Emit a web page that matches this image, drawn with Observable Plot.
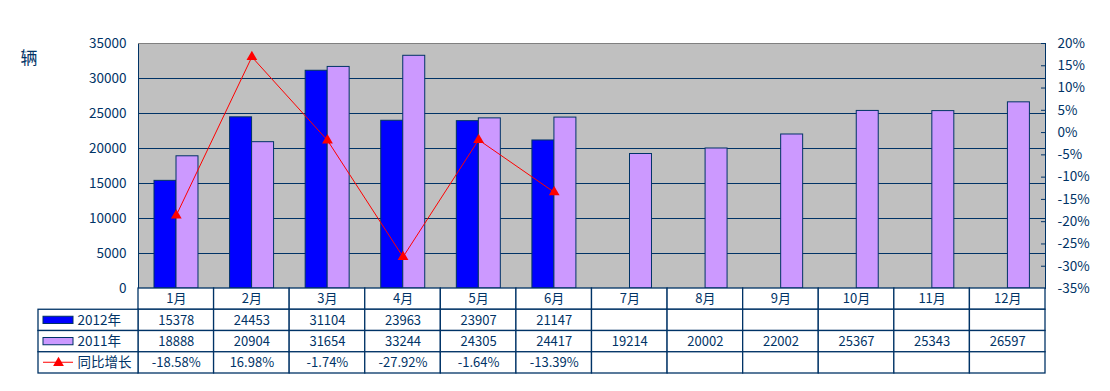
<!DOCTYPE html>
<html><head><meta charset="utf-8">
<script src="https://cdn.jsdelivr.net/npm/d3@7"></script>
<script src="https://cdn.jsdelivr.net/npm/@observablehq/plot@0.6"></script>
<style>
body{margin:0;background:#fff;}
#wrap{position:relative;width:1110px;height:391px;}
#wrap svg{position:absolute;left:0;overflow:visible;}
</style>
</head><body><div id="wrap"></div>
<script>
const months = ["1月","2月","3月","4月","5月","6月","7月","8月","9月","10月","11月","12月"];
const sales2012 = [15378, 24453, 31104, 23963, 23907, 21147];
const sales2011 = [18888, 20904, 31654, 33244, 24305, 24417, 19214, 20002, 22002, 25367, 25343, 26597];
const growth = [-18.58, 16.98, -1.74, -27.92, -1.64, -13.39];
const leftTicks = [0, 5000, 10000, 15000, 20000, 25000, 30000, 35000];
const rightTicks = [-35, -30, -25, -20, -15, -10, -5, 0, 5, 10, 15, 20];
const rowKeys = ["header", "2012年", "2011年", "同比增长"];
const unitLabel = "辆";

const NAVY = "#003366";
const FONT = "SimSun, 'Noto Sans CJK SC', sans-serif";
const pct = d3.scaleLinear([-35, 20], [0, 35000]);

const rows2012 = sales2012.map((v, i) => ({month: months[i], value: v}));
const rows2011 = sales2011.map((v, i) => ({month: months[i], value: v}));
const rowsG = growth.map((g, i) => ({month: months[i], g}));

const main = Plot.plot({
  width: 1110, height: 300,
  marginTop: 43, marginBottom: 12, marginLeft: 138, marginRight: 65,
  style: {background: "transparent", fontFamily: FONT, fontSize: "13px", color: NAVY},
  x: {domain: months, padding: 0, round: false, axis: null},
  y: {domain: [0, 35000], axis: null},
  marks: [
    Plot.frame({fill: "#C0C0C0", stroke: NAVY}),
    Plot.ruleY(leftTicks.slice(1, -1), {stroke: NAVY}),
    Plot.ruleY([35000], {stroke: "#808080"}),
    Plot.barY(rows2012, {x: "month", y: "value", fill: "#0000FF", stroke: NAVY, insetLeft: 16, insetRight: 37.6}),
    Plot.barY(rows2011, {x: "month", y: "value", fill: "#CC99FF", stroke: NAVY, insetLeft: 38, insetRight: 15.6}),
    Plot.line(rowsG, {x: "month", y: d => pct(d.g), stroke: "#FF0000", strokeWidth: 1}),
    Plot.dot(rowsG, {x: "month", y: d => pct(d.g), symbol: "triangle", r: 4, fill: "#FF0000"}),
    Plot.axisY({anchor: "left", ticks: leftTicks, tickFormat: d => String(d), label: null, tickSize: 0, tickPadding: 12, fill: NAVY, fontSize: 13.5}),
    Plot.axisY({anchor: "right", ticks: rightTicks.map(v => pct(v)), tickFormat: v => Math.round(pct.invert(v)) + "%", label: null,
      tickSize: 5, dx: -5, tickPadding: 12, stroke: NAVY, fill: NAVY, fontSize: 13.5}),
    Plot.text([unitLabel], {frameAnchor: "top-left", dx: -118, dy: 8, textAnchor: "start", fontSize: 17, fill: NAVY})
  ]
});
main.style.top = "0px";

const cells = [];
months.forEach((m, i) => rowKeys.forEach(r => cells.push({i, r})));
const txt = [];
months.forEach((m, i) => txt.push({i, r: "header", t: m}));
sales2012.forEach((v, i) => txt.push({i, r: "2012年", t: String(v)}));
sales2011.forEach((v, i) => txt.push({i, r: "2011年", t: String(v)}));
growth.forEach((v, i) => txt.push({i, r: "同比增长", t: v.toFixed(2) + "%"}));

const table = Plot.plot({
  width: 1110, height: 103,
  marginTop: 0, marginBottom: 18, marginLeft: 138, marginRight: 65,
  style: {background: "transparent", fontFamily: FONT, fontSize: "13px", color: NAVY},
  x: {domain: [0, 12], axis: null},
  y: {domain: rowKeys, padding: 0, round: false, axis: null},
  marks: [
    Plot.barX(cells, {x1: d => d.i, x2: d => d.i + 1, y: "r", fill: "white", stroke: NAVY, strokeWidth: 1.3}),
    Plot.barX(rowKeys.slice(1), {x1: 0, x2: 0, y: d => d, insetLeft: -100, fill: "white", stroke: NAVY, strokeWidth: 1.3}),
    Plot.barX(["2012年"], {x1: 0, x2: 0, y: d => d, insetLeft: -95, insetRight: 65, insetTop: 7, insetBottom: 7, fill: "#0000FF", stroke: NAVY}),
    Plot.barX(["2011年"], {x1: 0, x2: 0, y: d => d, insetLeft: -95, insetRight: 65, insetTop: 7, insetBottom: 7, fill: "#CC99FF", stroke: NAVY}),
    Plot.barX(["同比增长"], {x1: 0, x2: 0, y: d => d, insetLeft: -95, insetRight: 65, insetTop: 10, insetBottom: 10.25, fill: "#FF0000"}),
    Plot.dot(["同比增长"], {x: 0, y: d => d, dx: -80, symbol: "triangle", r: 4, fill: "#FF0000"}),
    Plot.text(rowKeys.slice(1), {x: 0, y: d => d, dx: -61, textAnchor: "start", fill: NAVY, fontSize: 13.5}),
    Plot.text(txt, {x: d => d.i + 0.5, y: "r", text: "t", fill: NAVY, fontSize: 13})
  ]
});
table.style.top = "288px";

const wrap = document.getElementById("wrap");
wrap.appendChild(main);
wrap.appendChild(table);
</script></body></html>
